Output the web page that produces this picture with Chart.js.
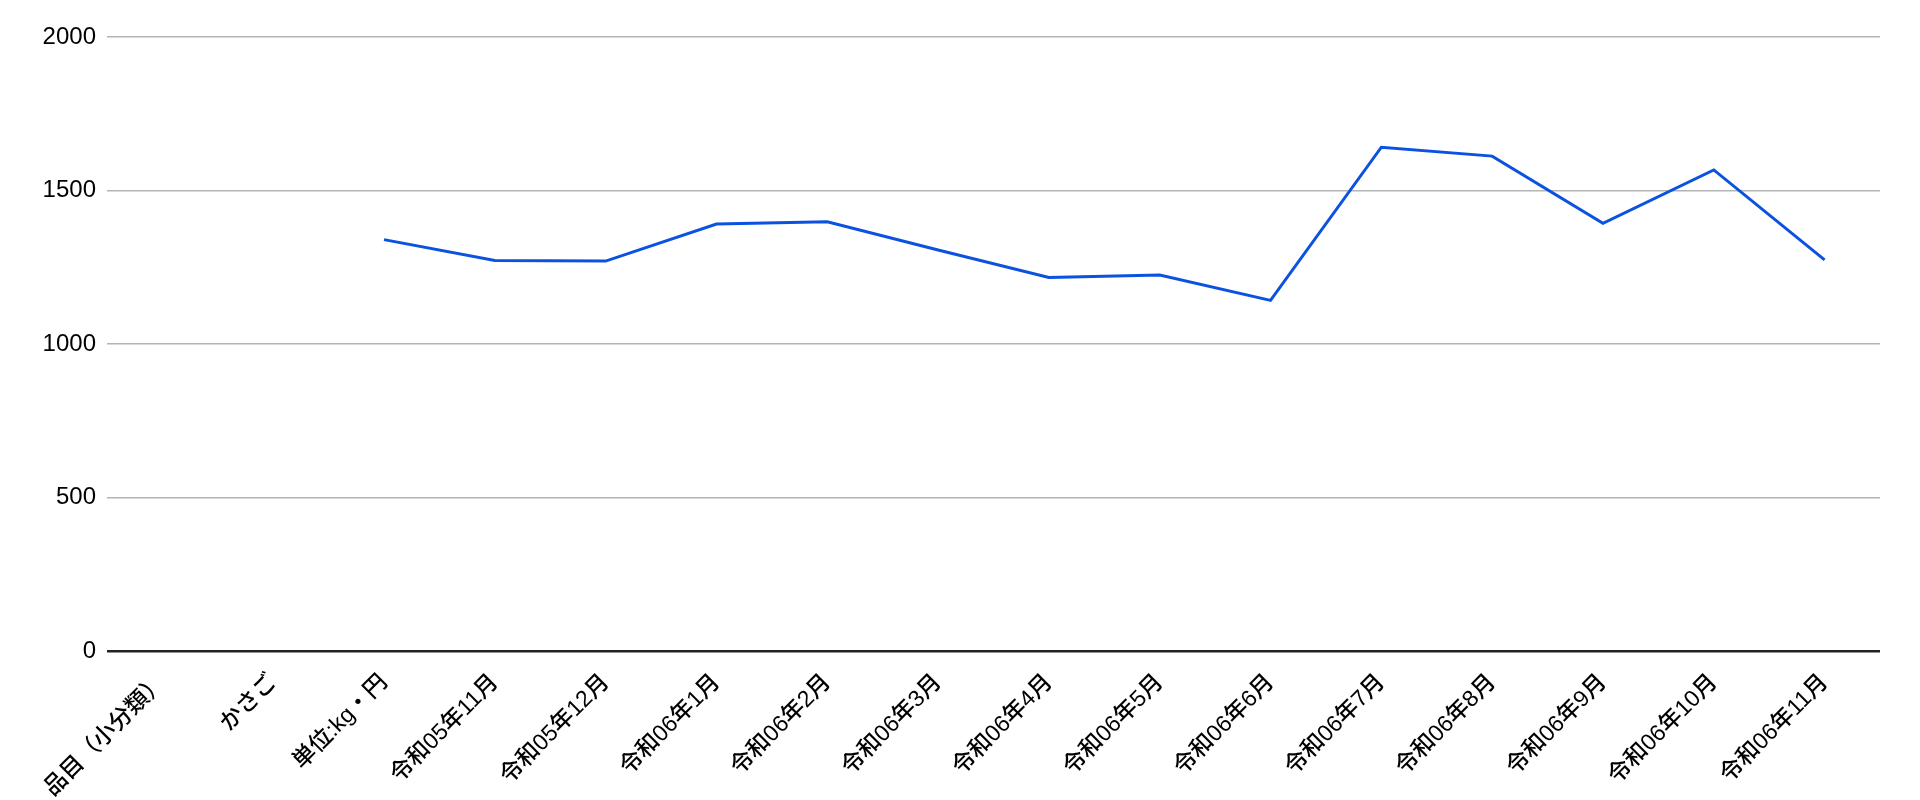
<!DOCTYPE html>
<html>
<head>
<meta charset="utf-8">
<script src="https://cdn.jsdelivr.net/npm/chart.js@4"></script>
<style>
  body { margin: 0; background: #fff; }
  #wrap { width: 1920px; height: 800px; }
</style>
</head>
<body>
<div id="wrap"><canvas id="grafico"></canvas></div>
<script>
const categorias = ['品目（小分類）', 'かさご', '単位:kg・円',
    '令和05年11月', '令和05年12月', '令和06年1月', '令和06年2月', '令和06年3月',
    '令和06年4月', '令和06年5月', '令和06年6月', '令和06年7月', '令和06年8月',
    '令和06年9月', '令和06年10月', '令和06年11月'];
const valores = [null, null, 1340, 1272, 1270, 1391, 1398, 1306,
    1217, 1225, 1142, 1641, 1612, 1393, 1567, 1274];
const ticksY = [0, 500, 1000, 1500, 2000];

const fonte = "'Liberation Sans', Arial, 'Noto Sans CJK JP', sans-serif";

const ctx = document.getElementById('grafico').getContext('2d');
new Chart(ctx, {
    type: 'line',
    data: {
        labels: categorias,
        datasets: [{
            label: 'かさご',
            data: valores,
            borderColor: '#0b52e0',
            borderWidth: 3,
            pointRadius: 0,
            tension: 0,
            fill: false
        }]
    },
    options: {
        responsive: true,
        maintainAspectRatio: false,
        animation: false,
        layout: { padding: { top: 37, right: 40, left: 0, bottom: 0 } },
        plugins: {
            legend: { display: false },
            tooltip: { enabled: false }
        },
        scales: {
            x: {
                offset: true,
                grid: { display: false },
                border: { display: false },
                ticks: {
                    color: '#000',
                    font: { family: fonte, size: 23, weight: '500' },
                    minRotation: 45,
                    maxRotation: 45,
                    autoSkip: false,
                    padding: 10
                },
                afterFit: scale => { scale.height = 149; }
            },
            y: {
                min: 0,
                max: 2000,
                afterBuildTicks: scale => { scale.ticks = ticksY.map(v => ({ value: v })); },
                border: { display: false },
                grid: {
                    drawTicks: false,
                    color: c => c.tick && c.tick.value === 0 ? '#222' : '#b4b4b4',
                    lineWidth: c => c.tick && c.tick.value === 0 ? 2.5 : 1.5
                },
                ticks: {
                    color: '#000',
                    font: { family: fonte, size: 24 },
                    padding: 11,
                    callback: v => String(v)
                },
                afterFit: scale => { scale.width = 107; }
            }
        }
    }
});
</script>
</body>
</html>
